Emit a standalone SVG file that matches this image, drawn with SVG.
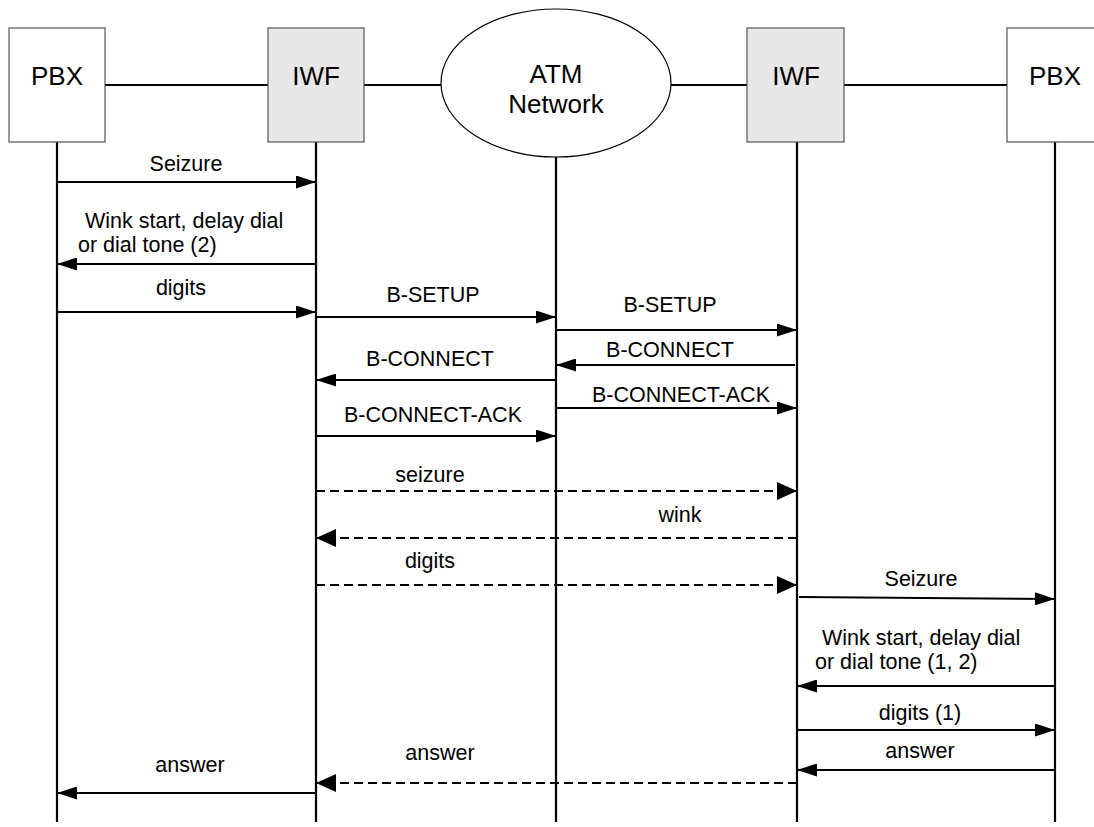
<svg xmlns="http://www.w3.org/2000/svg" width="1094" height="827" viewBox="0 0 1094 827">
<style>
.box{fill:#ffffff;stroke:#555;stroke-width:1.2}
.iwf{fill:#e8e8e8;stroke:#555;stroke-width:1.2}
.nl{font-family:"Liberation Sans",Arial,sans-serif;font-size:26px;fill:#000;text-anchor:middle}
.ml{font-family:"Liberation Sans",Arial,sans-serif;font-size:21.5px;fill:#000;text-anchor:middle}
.ms{font-family:"Liberation Sans",Arial,sans-serif;font-size:21.5px;fill:#000;text-anchor:start}
.link{stroke:#000;stroke-width:2.2;fill:none}
.life{stroke:#000;stroke-width:2.2;fill:none}
.msg{stroke:#000;stroke-width:2;fill:none;marker-end:url(#ah)}
.dmsg{stroke:#000;stroke-width:2;fill:none;stroke-dasharray:9 5;marker-end:url(#ahd)}
</style>
<defs>
<marker id="ah" markerUnits="userSpaceOnUse" markerWidth="20" markerHeight="13" refX="20" refY="6.5" orient="auto">
<path d="M0,0 L20,6.5 L0,13 z" fill="#000"/>
</marker>
<marker id="ahd" markerUnits="userSpaceOnUse" markerWidth="20" markerHeight="18" refX="20" refY="9" orient="auto">
<path d="M0,0 L20,9 L0,18 z" fill="#000"/>
</marker>
</defs>
<rect width="1094" height="827" fill="#ffffff"/>
<g id="links">
<line class="link" x1="105" y1="85" x2="268" y2="85"/>
<line class="link" x1="364" y1="85" x2="441" y2="85"/>
<line class="link" x1="671" y1="85" x2="747" y2="85"/>
<line class="link" x1="844" y1="85" x2="1007" y2="85"/>
</g>
<g id="lifelines">
<line class="life" x1="57" y1="142" x2="57" y2="822"/>
<line class="life" x1="316" y1="142" x2="316" y2="822"/>
<line class="life" x1="556" y1="157" x2="556" y2="822"/>
<line class="life" x1="797" y1="142" x2="797" y2="822"/>
<line class="life" x1="1055" y1="142" x2="1055" y2="822"/>
</g>
<g id="pbx1">
<rect class="box" x="9" y="28" width="96" height="114"/>
<text class="nl" x="57" y="85">PBX</text>
</g>
<g id="iwf1">
<rect class="iwf" x="268" y="28" width="96" height="114"/>
<text class="nl" x="316" y="85">IWF</text>
</g>
<g id="atm">
<ellipse cx="556" cy="83" rx="115" ry="74" fill="#ffffff" stroke="#000" stroke-width="1.2"/>
<text class="nl" x="556" y="83">ATM</text>
<text class="nl" x="556" y="113">Network</text>
</g>
<g id="iwf2">
<rect class="iwf" x="747" y="28" width="97" height="114"/>
<text class="nl" x="796" y="85">IWF</text>
</g>
<g id="pbx2">
<rect class="box" x="1007" y="28" width="96" height="114"/>
<text class="nl" x="1055" y="85">PBX</text>
</g>
<g id="connectors">
<line class="msg" x1="57" y1="182" x2="316" y2="182"/>
<line class="msg" x1="316" y1="264" x2="57" y2="264"/>
<line class="msg" x1="57" y1="312" x2="316" y2="312"/>
<line class="msg" x1="316" y1="317" x2="556" y2="317"/>
<line class="msg" x1="556" y1="330" x2="797" y2="330"/>
<line class="msg" x1="795" y1="365" x2="556" y2="365"/>
<line class="msg" x1="556" y1="380" x2="316" y2="380"/>
<line class="msg" x1="556" y1="408" x2="797" y2="408"/>
<line class="msg" x1="316" y1="436" x2="556" y2="436"/>
<line class="dmsg" x1="316" y1="491" x2="797" y2="491"/>
<line class="dmsg" x1="797" y1="538" x2="316" y2="538"/>
<line class="dmsg" x1="316" y1="585" x2="797" y2="585"/>
<line class="msg" x1="799" y1="597" x2="1055" y2="599"/>
<line class="msg" x1="1055" y1="686" x2="797" y2="686"/>
<line class="msg" x1="797" y1="730" x2="1055" y2="730"/>
<line class="msg" x1="1055" y1="770" x2="797" y2="770"/>
<line class="dmsg" x1="797" y1="783" x2="316" y2="783"/>
<line class="msg" x1="316" y1="793" x2="57" y2="793"/>
</g>
<g id="labels">
<text class="ml" x="186" y="171">Seizure</text>
<text class="ms" x="85" y="228">Wink start, delay dial</text>
<text class="ms" x="78" y="252">or dial tone (2)</text>
<text class="ml" x="181" y="295">digits</text>
<text class="ml" x="433" y="302">B-SETUP</text>
<text class="ml" x="670" y="312">B-SETUP</text>
<text class="ml" x="670" y="357">B-CONNECT</text>
<text class="ml" x="430" y="366">B-CONNECT</text>
<text class="ml" x="681" y="402">B-CONNECT-ACK</text>
<text class="ml" x="433" y="422">B-CONNECT-ACK</text>
<text class="ml" x="430" y="482">seizure</text>
<text class="ml" x="680" y="522">wink</text>
<text class="ml" x="430" y="568">digits</text>
<text class="ml" x="921" y="586">Seizure</text>
<text class="ms" x="822" y="645">Wink start, delay dial</text>
<text class="ms" x="815" y="669">or dial tone (1, 2)</text>
<text class="ml" x="920" y="720">digits (1)</text>
<text class="ml" x="920" y="758">answer</text>
<text class="ml" x="440" y="760">answer</text>
<text class="ml" x="190" y="772">answer</text>
</g>
</svg>
